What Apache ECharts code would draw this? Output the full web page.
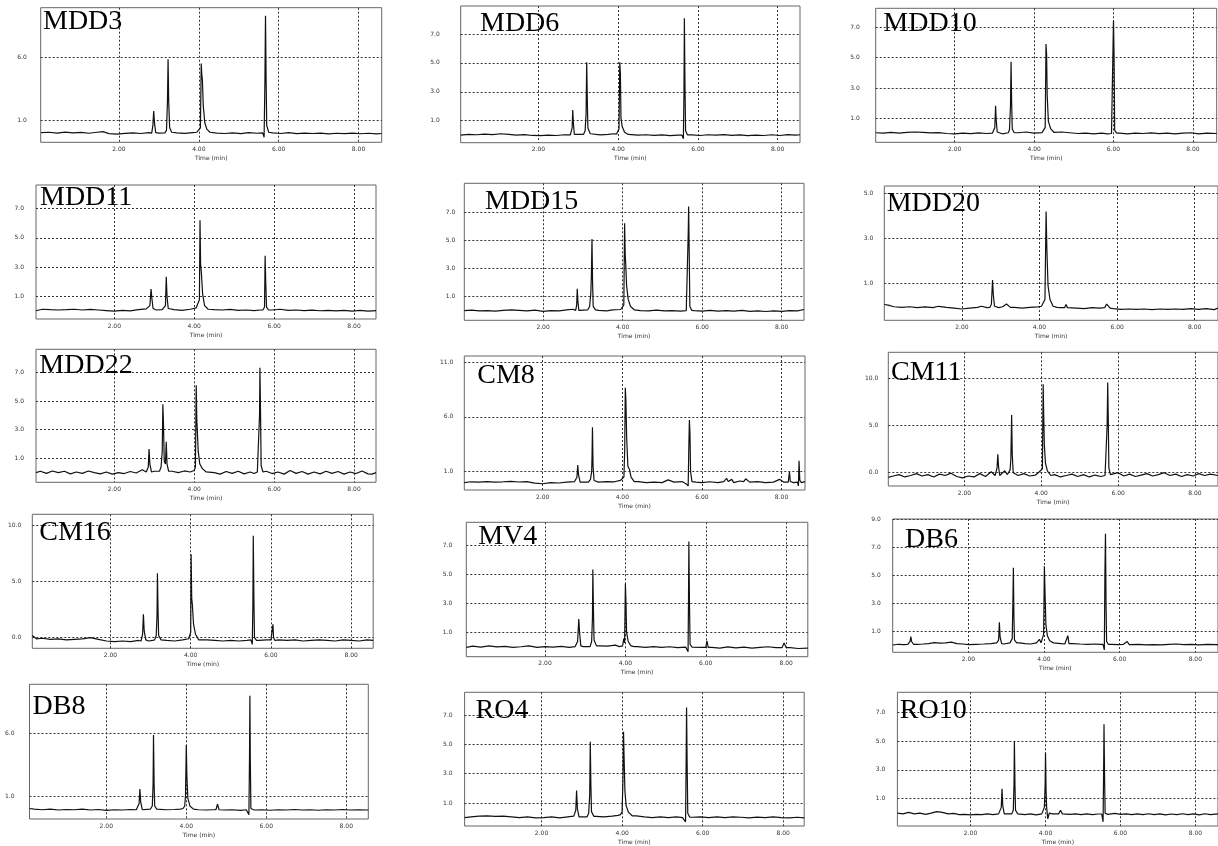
<!DOCTYPE html>
<html>
<head>
<meta charset="utf-8">
<script src="https://cdn.jsdelivr.net/npm/echarts@6/dist/echarts.min.js"></script>
<style>
html,body{margin:0;padding:0;background:#fff;}
#chart{width:1218px;height:846px;}
</style>
</head>
<body>
<div id="chart"></div>
<script>
// ---------- DATA ----------
const panelNames = ['MDD3','MDD6','MDD10','MDD11','MDD15','MDD20','MDD22','CM8','CM11','CM16','MV4','DB6','DB8','RO4','RO10'];
const xTickValues = [2, 4, 6, 8];
const xAxisTitle = 'Time (min)';
const yTickValues = [
  [1, 6], [1, 3, 5, 7], [1, 3, 5, 7],
  [1, 3, 5, 7], [1, 3, 5, 7], [1, 3, 5],
  [1, 3, 5, 7], [1, 6, 11], [0, 5, 10],
  [0, 5, 10], [1, 3, 5, 7], [1, 3, 5, 7, 9],
  [1, 6], [1, 3, 5, 7], [1, 3, 5, 7]
];

const mdd3Base = [[0.05,0.02],[0.25,0.05],[0.45,-0.02],[0.65,0.06],[0.85,0.0],[1.05,0.04],[1.25,-0.03],[1.45,0.05],[1.6,0.1],[1.75,-0.06],[1.95,-0.1],[2.15,-0.04],[2.35,0.0],[2.55,-0.05],[2.75,0.02],[3.0,-0.02],[3.45,0.0],[3.65,-0.04],[3.85,0.02],[3.95,0.05],[4.45,-0.02],[4.65,-0.05],[4.85,0.0],[5.05,-0.06],[5.25,0.02],[5.45,-0.03],[5.85,0.0],[6.05,-0.05],[6.25,0.02],[6.45,-0.06],[6.65,-0.02],[6.85,-0.05],[7.05,-0.02],[7.25,-0.08],[7.45,-0.03],[7.65,-0.06],[7.85,-0.02],[8.05,-0.07],[8.25,-0.03],[8.45,-0.08],[8.58,-0.05]];
const mdd3Peaks = [
  [[2.82,-0.02],[2.85,0.6],[2.87,1.74],[2.89,0.8],[2.92,0.02]],
  [[3.15,0.0],[3.19,0.2],[3.215,2.5],[3.23,5.84],[3.245,2.5],[3.27,0.4],[3.32,0.05]],
  [[4.0,0.05],[4.04,0.4],[4.06,5.5],[4.075,4.6],[4.09,4.2],[4.11,2.2],[4.15,0.8],[4.2,0.3],[4.28,0.05]],
  [[5.6,0.0],[5.635,-0.35],[5.655,4.0],[5.67,9.3],[5.685,4.3],[5.7,0.6],[5.75,0.05]]
];

const mdd6Base = [[0.05,0.0],[0.25,0.06],[0.45,0.03],[0.65,0.08],[0.85,0.04],[1.05,0.1],[1.25,0.05],[1.45,0.0],[1.65,0.04],[1.85,-0.02],[2.05,-0.03],[2.25,0.0],[2.45,-0.02],[2.65,0.03],[2.8,0.02],[3.35,0.05],[3.55,0.02],[3.75,0.06],[3.9,0.1],[4.3,0.05],[4.5,0.0],[4.7,0.03],[4.9,-0.01],[5.1,0.02],[5.3,-0.03],[5.5,0.0],[5.85,0.02],[6.05,-0.02],[6.25,0.03],[6.45,0.0],[6.65,0.04],[6.85,-0.01],[7.05,0.02],[7.25,-0.03],[7.45,0.01],[7.65,-0.02],[7.85,0.03],[8.05,-0.02],[8.25,0.04],[8.45,0.0],[8.56,0.03]];
const mdd6Peaks = [
  [[2.82,0.02],[2.845,0.5],[2.86,1.74],[2.875,0.9],[2.9,0.05]],
  [[3.13,0.05],[3.17,0.3],[3.195,1.5],[3.21,5.04],[3.225,2.5],[3.24,0.5],[3.3,0.1]],
  [[3.96,0.08],[4.0,0.2],[4.02,0.45],[4.04,5.04],[4.055,4.3],[4.07,1.2],[4.1,0.6],[4.16,0.2],[4.25,0.05]],
  [[5.6,0.0],[5.635,-0.25],[5.65,3.0],[5.66,8.09],[5.675,3.5],[5.69,0.3],[5.74,0.02]]
];

const mdd10Base = [[0.01,0.05],[0.2,0.02],[0.4,0.08],[0.6,0.03],[0.8,0.07],[1.0,0.1],[1.2,0.08],[1.4,0.04],[1.6,0.06],[1.8,0.0],[2.0,-0.02],[2.2,0.03],[2.4,-0.01],[2.6,0.04],[2.8,0.0],[2.95,0.02],[3.2,-0.02],[3.6,0.05],[3.8,0.1],[4.0,0.03],[4.2,0.06],[4.7,0.1],[4.9,0.05],[5.1,0.0],[5.3,0.03],[5.5,-0.02],[5.7,0.02],[5.85,-0.03],[6.15,0.02],[6.35,-0.02],[6.55,0.03],[6.75,0.0],[6.95,0.04],[7.15,-0.01],[7.35,0.02],[7.55,-0.03],[7.75,0.02],[7.95,0.05],[8.15,-0.02],[8.35,0.02],[8.6,0.0]];
const mdd10Peaks = [
  [[2.98,0.02],[3.01,0.4],[3.03,1.83],[3.045,0.9],[3.07,0.1],[3.1,0.02]],
  [[3.35,0.05],[3.38,0.25],[3.405,1.8],[3.42,4.73],[3.435,2.0],[3.45,0.3],[3.5,0.05]],
  [[4.25,0.06],[4.28,0.4],[4.3,5.9],[4.315,5.2],[4.33,2.5],[4.36,0.8],[4.42,0.3],[4.5,0.08]],
  [[5.95,0.0],[5.985,0.1],[6.0,7.44],[6.015,5.0],[6.03,0.2],[6.08,0.02]]
];

const mdd11Base = [[0.04,0.05],[0.2,0.15],[0.4,0.12],[0.6,0.1],[0.8,0.12],[1.0,0.15],[1.2,0.1],[1.4,0.14],[1.6,0.1],[1.8,0.06],[2.0,0.02],[2.2,0.08],[2.4,0.04],[2.6,0.12],[2.8,0.18],[3.05,0.1],[3.2,0.12],[3.5,0.12],[3.7,0.08],[3.9,0.15],[4.05,0.25],[4.5,0.12],[4.7,0.1],[4.9,0.14],[5.1,0.08],[5.3,0.1],[5.5,0.06],[5.65,0.1],[5.95,0.1],[6.15,0.15],[6.35,0.08],[6.55,0.1],[6.75,0.06],[6.95,0.09],[7.15,0.05],[7.35,0.08],[7.55,0.04],[7.75,0.07],[7.95,0.03],[8.15,0.08],[8.35,0.03],[8.55,0.06]];
const mdd11Peaks = [
  [[2.85,0.15],[2.89,0.4],[2.92,1.52],[2.94,0.9],[2.97,0.2],[3.0,0.1]],
  [[3.25,0.12],[3.28,0.4],[3.3,2.36],[3.32,1.0],[3.35,0.2],[3.4,0.12]],
  [[4.1,0.3],[4.13,0.8],[4.145,6.19],[4.16,3.2],[4.18,2.6],[4.21,1.2],[4.26,0.4],[4.35,0.15]],
  [[5.72,0.1],[5.76,0.3],[5.775,3.78],[5.79,2.0],[5.81,0.3],[5.86,0.1]]
];

const mdd15Base = [[0.02,0.0],[0.2,0.03],[0.4,-0.02],[0.6,0.0],[0.8,-0.03],[1.0,0.02],[1.2,0.05],[1.4,0.02],[1.6,-0.02],[1.8,0.04],[2.0,-0.05],[2.2,0.0],[2.4,-0.02],[2.6,0.05],[2.75,0.1],[2.95,0.0],[3.4,0.02],[3.6,-0.02],[3.75,0.05],[3.95,0.08],[4.45,0.0],[4.65,-0.02],[4.85,0.03],[5.05,-0.02],[5.25,0.0],[5.45,-0.03],[5.8,0.0],[6.0,-0.03],[6.2,0.02],[6.4,-0.04],[6.6,0.0],[6.8,-0.03],[7.0,0.02],[7.2,-0.05],[7.4,-0.02],[7.6,-0.06],[7.8,-0.02],[8.0,-0.05],[8.2,0.0],[8.4,-0.02],[8.56,0.08]];
const mdd15Peaks = [
  [[2.82,0.02],[2.845,0.4],[2.86,1.56],[2.875,0.7],[2.9,0.02]],
  [[3.12,0.05],[3.17,0.3],[3.2,1.2],[3.215,2.5],[3.23,5.12],[3.245,2.0],[3.26,0.3],[3.32,0.05]],
  [[4.0,0.05],[4.03,0.4],[4.05,6.23],[4.065,4.0],[4.08,3.2],[4.1,1.8],[4.14,0.8],[4.2,0.3],[4.3,0.05]],
  [[5.6,0.0],[5.635,0.1],[5.65,5.6],[5.66,7.44],[5.675,4.0],[5.69,0.3],[5.74,0.02]]
];

const mdd20Base = [[0.0,0.08],[0.1,0.05],[0.25,-0.02],[0.45,-0.05],[0.65,-0.02],[0.85,-0.06],[1.05,-0.03],[1.25,-0.06],[1.4,0.0],[1.6,-0.05],[1.8,-0.08],[2.0,-0.12],[2.2,-0.08],[2.4,-0.05],[2.5,0.0],[2.65,-0.06],[2.95,-0.06],[3.05,-0.02],[3.35,-0.05],[3.55,-0.08],[3.75,-0.05],[3.95,-0.03],[4.05,0.0],[4.55,-0.06],[4.75,-0.1],[4.95,-0.08],[5.15,-0.1],[5.35,-0.06],[5.55,-0.08],[5.9,-0.1],[6.1,-0.14],[6.3,-0.12],[6.5,-0.14],[6.7,-0.12],[6.9,-0.15],[7.1,-0.12],[7.3,-0.14],[7.5,-0.12],[7.7,-0.14],[7.9,-0.1],[8.1,-0.14],[8.3,-0.1],[8.5,-0.15],[8.6,-0.08]];
const mdd20Peaks = [
  [[2.72,-0.05],[2.76,0.1],[2.79,1.16],[2.81,0.5],[2.84,0.0],[2.88,-0.05]],
  [[3.1,-0.05],[3.15,0.1],[3.17,0.18],[3.2,0.05],[3.25,-0.05]],
  [[4.1,0.0],[4.14,0.3],[4.17,4.19],[4.19,2.5],[4.22,0.9],[4.27,0.3],[4.35,0.0],[4.45,-0.05]],
  [[4.65,-0.06],[4.68,0.08],[4.72,-0.06]],
  [[5.68,-0.06],[5.73,0.1],[5.77,0.05],[5.82,-0.08]]
];

const mdd22Base = [[0.04,0.0],[0.15,0.1],[0.3,-0.05],[0.45,0.12],[0.6,0.0],[0.75,0.1],[0.9,-0.08],[1.05,0.05],[1.2,-0.05],[1.35,0.12],[1.5,0.0],[1.65,-0.08],[1.8,0.05],[1.95,-0.1],[2.1,0.0],[2.25,-0.06],[2.4,0.08],[2.55,-0.02],[2.7,0.2],[2.8,0.05],[3.0,0.1],[3.45,0.1],[3.6,0.0],[3.75,0.12],[3.9,0.05],[4.5,0.0],[4.65,-0.1],[4.8,0.08],[4.95,-0.05],[5.1,0.1],[5.25,-0.08],[5.4,0.05],[5.5,-0.06],[5.8,0.1],[5.95,-0.06],[6.1,0.05],[6.25,-0.1],[6.4,0.15],[6.55,-0.05],[6.7,0.08],[6.85,-0.1],[7.0,0.05],[7.15,-0.08],[7.3,0.1],[7.45,-0.05],[7.6,0.08],[7.75,-0.1],[7.9,0.05],[8.05,-0.06],[8.2,0.12],[8.35,-0.08],[8.45,-0.1],[8.55,0.0]];
const mdd22Peaks = [
  [[2.82,0.05],[2.85,0.4],[2.87,1.65],[2.89,0.6],[2.93,0.05]],
  [[3.13,0.1],[3.17,0.4],[3.2,1.5],[3.215,4.77],[3.23,3.5],[3.25,0.8],[3.28,0.6],[3.3,2.16],[3.32,0.6],[3.36,0.1]],
  [[4.0,0.15],[4.03,0.4],[4.05,6.1],[4.065,3.7],[4.08,3.6],[4.1,1.5],[4.14,0.6],[4.2,0.3],[4.3,0.05]],
  [[5.58,0.05],[5.62,0.0],[5.635,4.0],[5.645,7.32],[5.66,4.2],[5.675,0.5],[5.72,0.05]]
];

const cm8Base = [[0.03,0.0],[0.2,0.08],[0.4,0.05],[0.6,0.1],[0.8,0.05],[1.0,0.08],[1.2,0.12],[1.4,0.06],[1.6,0.1],[1.8,-0.05],[2.0,-0.1],[2.2,0.0],[2.4,-0.03],[2.6,0.05],[2.8,0.1],[3.0,0.05],[3.4,0.05],[3.6,0.1],[3.8,0.08],[3.95,0.2],[4.4,0.1],[4.6,0.0],[4.8,0.05],[5.0,0.0],[5.15,0.25],[5.3,0.05],[5.5,0.1],[5.6,-0.1],[5.85,0.05],[6.0,0.0],[6.2,0.08],[6.4,0.0],[6.55,0.1],[6.62,0.4],[6.66,0.1],[6.75,0.3],[6.8,0.0],[6.95,0.15],[7.05,0.1],[7.1,0.35],[7.2,0.05],[7.4,0.1],[7.6,0.0],[7.8,0.05],[7.95,0.3],[8.05,0.05],[8.3,0.0],[8.59,0.1]];
const cm8Peaks = [
  [[2.82,0.05],[2.86,0.5],[2.88,1.61],[2.9,0.7],[2.94,0.05]],
  [[3.15,0.05],[3.2,0.3],[3.23,1.0],[3.24,2.5],[3.25,5.05],[3.265,1.5],[3.29,0.2],[3.34,0.05]],
  [[4.0,0.2],[4.04,0.5],[4.06,3.0],[4.075,8.66],[4.09,7.5],[4.11,4.0],[4.14,1.5],[4.18,1.2],[4.22,0.5],[4.3,0.1]],
  [[5.63,0.0],[5.655,-0.3],[5.67,3.0],[5.685,5.72],[5.7,4.5],[5.715,1.0],[5.75,0.1],[5.8,0.0]],
  [[8.17,0.05],[8.2,1.0],[8.22,0.1],[8.26,0.05]],
  [[8.4,0.05],[8.425,-0.3],[8.44,2.0],[8.46,0.2],[8.5,0.0]]
];

const cm11Base = [[0.02,-0.5],[0.15,-0.35],[0.3,-0.2],[0.45,-0.45],[0.6,-0.3],[0.75,-0.1],[0.9,-0.35],[1.05,-0.2],[1.2,-0.45],[1.35,-0.15],[1.5,-0.3],[1.65,-0.05],[1.8,-0.4],[1.95,-0.55],[2.1,-0.35],[2.25,-0.45],[2.4,-0.1],[2.55,-0.4],[2.7,0.1],[2.8,-0.3],[2.95,-0.2],[3.05,0.2],[3.12,-0.2],[3.4,-0.3],[3.55,-0.1],[3.7,-0.35],[3.85,-0.25],[3.95,0.1],[4.35,-0.2],[4.5,-0.45],[4.65,-0.3],[4.8,-0.15],[4.95,-0.4],[5.1,-0.2],[5.25,-0.45],[5.4,-0.25],[5.55,-0.4],[5.85,-0.2],[6.0,0.0],[6.15,-0.35],[6.3,-0.15],[6.45,-0.4],[6.6,-0.25],[6.75,-0.1],[6.9,-0.35],[7.05,-0.2],[7.2,0.0],[7.35,-0.3],[7.5,-0.15],[7.65,-0.4],[7.8,-0.2],[7.95,-0.35],[8.1,-0.1],[8.25,-0.3],[8.4,-0.15],[8.6,-0.3]];
const cm11Peaks = [
  [[2.82,-0.3],[2.85,0.5],[2.87,1.95],[2.89,0.6],[2.92,-0.3]],
  [[3.15,-0.2],[3.19,0.3],[3.21,1.5],[3.23,6.1],[3.245,2.0],[3.27,0.0],[3.32,-0.2]],
  [[3.99,0.0],[4.03,0.4],[4.05,9.37],[4.065,6.0],[4.08,3.0],[4.11,1.0],[4.16,0.2],[4.25,-0.3]],
  [[5.66,-0.3],[5.7,-0.2],[5.715,5.0],[5.73,9.55],[5.745,5.5],[5.76,0.5],[5.8,-0.2]]
];

const cm16Base = [[0.05,0.2],[0.15,-0.1],[0.3,-0.05],[0.5,-0.15],[0.7,-0.1],[0.9,-0.2],[1.1,-0.15],[1.3,-0.1],[1.5,0.0],[1.7,-0.15],[1.9,-0.3],[2.1,-0.35],[2.3,-0.3],[2.5,-0.35],[2.7,-0.25],[2.95,-0.3],[3.05,-0.25],[3.4,-0.25],[3.6,-0.3],[3.8,-0.2],[3.95,-0.1],[4.4,-0.2],[4.6,-0.25],[4.8,-0.3],[5.0,-0.25],[5.2,-0.3],[5.4,-0.25],[5.7,-0.25],[5.9,-0.2],[6.2,-0.2],[6.4,-0.25],[6.6,-0.2],[6.8,-0.3],[7.0,-0.25],[7.2,-0.2],[7.4,-0.25],[7.6,-0.3],[7.8,-0.2],[8.0,-0.25],[8.2,-0.3],[8.4,-0.2],[8.55,-0.25]];
const cm16Peaks = [
  [[2.76,-0.3],[2.8,0.3],[2.82,2.09],[2.84,0.6],[2.88,-0.2]],
  [[3.1,-0.2],[3.14,0.2],[3.16,2.0],[3.17,5.75],[3.185,2.5],[3.2,0.2],[3.26,-0.2]],
  [[3.97,0.0],[4.0,0.5],[4.01,7.45],[4.025,3.5],[4.04,3.0],[4.07,1.2],[4.12,0.3],[4.2,-0.2]],
  [[5.5,-0.2],[5.535,-0.6],[5.55,3.0],[5.56,9.1],[5.575,3.5],[5.59,0.0],[5.64,-0.25]],
  [[6.0,-0.2],[6.035,-0.3],[6.05,1.2],[6.065,0.0],[6.1,-0.25]]
];

const mv4Base = [[0.04,0.0],[0.2,0.08],[0.4,0.02],[0.6,0.1],[0.8,0.03],[1.0,0.06],[1.2,0.0],[1.4,0.04],[1.6,0.1],[1.8,0.0],[2.0,0.05],[2.2,0.02],[2.4,0.06],[2.6,0.0],[2.75,0.05],[2.95,0.05],[3.35,0.1],[3.55,0.08],[3.75,0.15],[3.85,0.05],[4.3,0.05],[4.5,0.0],[4.7,0.05],[4.9,0.0],[5.1,0.04],[5.3,-0.02],[5.5,0.02],[5.7,0.05],[5.9,0.0],[6.15,0.0],[6.35,-0.05],[6.55,0.03],[6.75,-0.04],[6.95,0.02],[7.15,-0.05],[7.35,0.0],[7.55,0.04],[7.75,-0.02],[8.1,-0.02],[8.3,-0.08],[8.54,-0.05]];
const mv4Peaks = [
  [[2.78,0.05],[2.81,0.4],[2.84,1.94],[2.86,1.0],[2.89,0.1],[2.93,0.05]],
  [[3.12,0.05],[3.16,0.4],[3.18,2.0],[3.19,5.32],[3.205,2.5],[3.22,0.5],[3.28,0.1]],
  [[3.93,0.1],[3.96,0.6],[3.98,0.3],[4.0,4.34],[4.015,3.0],[4.03,1.0],[4.07,0.4],[4.14,0.1],[4.22,0.05]],
  [[5.52,0.02],[5.56,-0.3],[5.57,3.0],[5.58,7.23],[5.595,3.0],[5.61,0.2],[5.66,0.02]],
  [[6.0,0.0],[6.03,0.45],[6.06,0.0]],
  [[7.9,-0.02],[7.95,0.3],[8.0,-0.02]]
];

const db6Base = [[0.0,0.05],[0.15,0.1],[0.3,0.08],[0.4,0.1],[0.65,0.1],[0.8,0.12],[0.95,0.15],[1.1,0.22],[1.25,0.18],[1.4,0.2],[1.55,0.25],[1.7,0.15],[1.85,0.12],[2.0,0.08],[2.2,0.1],[2.4,0.12],[2.6,0.15],[2.75,0.2],[2.95,0.12],[3.1,0.2],[3.35,0.2],[3.5,0.15],[3.65,0.12],[3.8,0.2],[4.3,0.2],[4.45,0.15],[4.55,0.12],[4.75,0.15],[4.95,0.12],[5.15,0.1],[5.35,0.12],[5.5,0.1],[5.8,0.1],[5.95,0.08],[6.1,0.1],[6.3,0.08],[6.5,0.1],[6.7,0.06],[6.9,0.08],[7.1,0.06],[7.3,0.1],[7.5,0.12],[7.7,0.08],[7.9,0.1],[8.1,0.06],[8.3,0.1],[8.6,0.08]];
const db6Peaks = [
  [[0.42,0.1],[0.46,0.3],[0.48,0.64],[0.5,0.3],[0.55,0.1]],
  [[2.78,0.15],[2.8,0.4],[2.82,1.67],[2.84,0.6],[2.88,0.15]],
  [[3.13,0.2],[3.16,0.5],[3.18,3.5],[3.19,5.53],[3.205,2.0],[3.22,0.4],[3.28,0.2]],
  [[3.85,0.15],[3.88,0.45],[3.92,0.2]],
  [[3.96,0.3],[3.99,0.8],[4.01,5.64],[4.03,3.5],[4.05,1.5],[4.09,0.7],[4.15,0.35],[4.25,0.2]],
  [[4.6,0.12],[4.63,0.71],[4.66,0.15]],
  [[5.56,0.1],[5.595,-0.3],[5.61,5.0],[5.625,7.95],[5.64,3.0],[5.655,0.3],[5.7,0.1]],
  [[6.15,0.08],[6.2,0.3],[6.25,0.08]]
];

const db8Base = [[0.08,0.0],[0.2,-0.05],[0.4,-0.1],[0.6,-0.05],[0.8,-0.12],[1.0,-0.08],[1.2,-0.1],[1.4,-0.05],[1.6,-0.12],[1.8,-0.08],[2.0,-0.15],[2.2,-0.1],[2.4,-0.12],[2.6,-0.08],[2.75,-0.1],[2.95,-0.1],[3.3,-0.05],[3.5,-0.1],[3.7,-0.08],[3.85,-0.05],[4.3,-0.1],[4.5,-0.12],[4.65,-0.1],[4.95,-0.12],[5.15,-0.1],[5.35,-0.15],[5.5,-0.1],[5.7,-0.12],[5.9,-0.1],[6.1,-0.14],[6.3,-0.1],[6.5,-0.12],[6.7,-0.08],[6.9,-0.12],[7.1,-0.1],[7.3,-0.14],[7.5,-0.1],[7.7,-0.12],[7.9,-0.08],[8.1,-0.12],[8.3,-0.1],[8.55,-0.12]];
const db8Peaks = [
  [[2.8,-0.1],[2.82,0.4],[2.84,1.56],[2.86,0.5],[2.9,-0.1]],
  [[3.1,-0.05],[3.15,0.2],[3.17,2.0],[3.18,5.87],[3.195,2.0],[3.21,0.2],[3.26,-0.05]],
  [[3.92,0.0],[3.96,0.2],[3.98,1.0],[4.0,5.07],[4.015,2.5],[4.04,0.8],[4.09,0.2],[4.18,-0.05]],
  [[4.74,-0.1],[4.78,0.34],[4.82,-0.1]],
  [[5.53,-0.1],[5.565,-0.5],[5.58,4.0],[5.59,9.0],[5.6,4.0],[5.615,0.0],[5.66,-0.1]]
];

const ro4Base = [[0.09,0.0],[0.25,0.05],[0.45,0.1],[0.65,0.12],[0.85,0.08],[1.05,0.1],[1.25,0.05],[1.45,0.0],[1.65,0.05],[1.85,-0.02],[2.05,0.0],[2.25,0.04],[2.45,-0.02],[2.65,0.05],[2.8,0.1],[3.0,0.05],[3.35,0.08],[3.55,0.05],[3.75,0.1],[3.9,0.15],[4.35,0.12],[4.55,0.05],[4.75,0.0],[4.95,0.05],[5.15,0.0],[5.35,0.04],[5.5,0.0],[5.75,0.02],[5.95,0.05],[6.15,0.0],[6.35,0.04],[6.55,0.0],[6.75,0.05],[6.95,0.02],[7.15,-0.02],[7.35,0.03],[7.55,0.0],[7.75,0.05],[7.95,0.0],[8.15,-0.03],[8.35,0.02],[8.52,-0.02]];
const ro4Peaks = [
  [[2.83,0.08],[2.85,0.5],[2.87,1.85],[2.89,0.6],[2.93,0.05]],
  [[3.13,0.05],[3.17,0.3],[3.195,1.5],[3.21,5.2],[3.225,2.2],[3.24,0.4],[3.3,0.08]],
  [[3.96,0.2],[4.0,0.4],[4.02,2.5],[4.035,5.88],[4.05,4.0],[4.07,1.8],[4.1,0.8],[4.16,0.35],[4.25,0.12]],
  [[5.54,0.0],[5.575,-0.3],[5.59,4.0],[5.6,7.54],[5.615,3.5],[5.63,0.3],[5.68,0.02]]
];

const ro10Base = [[0.05,0.0],[0.2,-0.05],[0.35,0.05],[0.5,-0.05],[0.65,0.0],[0.8,-0.08],[0.95,0.0],[1.1,0.1],[1.25,0.05],[1.4,-0.05],[1.55,-0.02],[1.7,-0.1],[1.85,-0.08],[2.0,-0.12],[2.15,-0.08],[2.3,-0.1],[2.45,-0.05],[2.6,-0.1],[2.75,-0.05],[2.95,-0.08],[3.3,-0.05],[3.45,-0.1],[3.6,-0.05],[3.75,-0.12],[3.9,-0.05],[4.25,-0.05],[4.5,-0.1],[4.65,-0.08],[4.8,-0.05],[4.95,-0.1],[5.1,-0.05],[5.25,-0.1],[5.4,-0.06],[5.7,-0.08],[5.85,-0.02],[6.0,-0.08],[6.15,-0.05],[6.3,-0.1],[6.45,-0.05],[6.6,-0.1],[6.75,-0.04],[6.9,-0.1],[7.05,-0.05],[7.2,-0.12],[7.35,-0.06],[7.5,-0.1],[7.65,-0.04],[7.8,-0.1],[7.95,-0.05],[8.1,-0.12],[8.25,-0.04],[8.4,-0.1],[8.6,-0.05]];
const ro10Peaks = [
  [[2.79,-0.05],[2.82,0.4],[2.84,1.68],[2.86,0.5],[2.9,-0.05]],
  [[3.1,-0.05],[3.14,0.2],[3.16,2.0],[3.17,5.0],[3.185,2.0],[3.2,0.2],[3.26,-0.05]],
  [[3.93,-0.02],[3.97,0.4],[3.99,2.0],[4.0,4.2],[4.015,1.5],[4.03,0.4],[4.06,-0.4],[4.1,0.0],[4.18,-0.05]],
  [[4.35,-0.05],[4.4,0.2],[4.45,-0.05]],
  [[5.5,-0.06],[5.535,-0.6],[5.55,3.0],[5.56,6.15],[5.575,2.5],[5.59,0.0],[5.65,-0.08]]
];

const baselines = [mdd3Base, mdd6Base, mdd10Base, mdd11Base, mdd15Base, mdd20Base, mdd22Base, cm8Base, cm11Base, cm16Base, mv4Base, db6Base, db8Base, ro4Base, ro10Base];
const peakSets = [mdd3Peaks, mdd6Peaks, mdd10Peaks, mdd11Peaks, mdd15Peaks, mdd20Peaks, mdd22Peaks, cm8Peaks, cm11Peaks, cm16Peaks, mv4Peaks, db6Peaks, db8Peaks, ro4Peaks, ro10Peaks];

// ---------- LAYOUT (positions / ranges, not data) ----------
const layout = [
  {g:[40.7,7.7,341,134.6],   x:[0.04,8.58], y:[-0.75,9.94],  m:14, t:[43,21.7]},
  {g:[460.7,6,339.3,136.7],  x:[0.05,8.56], y:[-0.52,8.94],  m:21, t:[480,23.7]},
  {g:[875.7,8.3,341,134],    x:[0.01,8.6],  y:[-0.58,8.25],  m:16, t:[883.3,23.8]},
  {g:[36,185,340,134],       x:[0.04,8.55], y:[-0.51,8.58],  m:12, t:[40,197.2]},
  {g:[464.3,183.3,339.7,137],x:[0.02,8.56], y:[-0.69,9.09],  m:9,  t:[485,201.2]},
  {g:[884.3,186,340.6,134.3],x:[0,8.6],     y:[-0.62,5.32],  m:11, t:[886.7,204]},
  {g:[36,349.3,340,133],     x:[0.04,8.55], y:[-0.67,8.6],   m:12, t:[39.3,365.5]},
  {g:[464.3,356,340.7,134],  x:[0.03,8.59], y:[-0.67,11.55], m:11, t:[477.3,375.2]},
  {g:[888.3,352.3,340.6,133.7],x:[0.02,8.6],y:[-1.41,12.75], m:10, t:[891,373]},
  {g:[32.3,514.3,340.9,134], x:[0.05,8.55], y:[-0.95,11.02], m:11, t:[39.3,533]},
  {g:[466.3,522.3,341.5,134.4],x:[0.04,8.54],y:[-0.64,8.55], m:14, t:[478.2,536.3]},
  {g:[892.7,519,340.6,133.3],x:[0,8.6],     y:[-0.47,9.0],   m:12, t:[905,539.2]},
  {g:[29.5,684.3,338.8,134.7],x:[0.08,8.55],y:[-0.84,9.91],  m:15, t:[32.6,706.3]},
  {g:[464.6,692.3,339.6,135.4],x:[0.09,8.52],y:[-0.58,8.58], m:12, t:[475.5,710.8]},
  {g:[897.4,692.3,341.1,135.4],x:[0.05,8.6],y:[-0.89,8.37],  m:12, t:[899.8,710.8]}
];

function buildTrace(base, peaks) {
  const pts = base.filter(p => !peaks.some(pk => p[0] >= pk[0][0] && p[0] <= pk[pk.length - 1][0]));
  peaks.forEach(pk => pk.forEach(p => pts.push(p)));
  return pts.sort((a, b) => a[0] - b[0]);
}

const grids = [], xAxes = [], yAxes = [], series = [], graphics = [];
const gridLine = {type: [2, 2], color: '#333', width: 1};
panelNames.forEach((name, i) => {
  const L = layout[i];
  grids.push({left: L.g[0], top: L.g[1], width: L.g[2], height: L.g[3], show: true,
    borderColor: '#666', borderWidth: 1, backgroundColor: '#fff', containLabel: false});
  xAxes.push({type: 'value', gridIndex: i, min: L.x[0], max: L.x[1],
    name: xAxisTitle, nameLocation: 'middle', nameGap: 13,
    nameTextStyle: {fontSize: 6, color: '#333', fontFamily: 'DejaVu Sans'},
    axisLine: {show: false}, axisTick: {show: false, customValues: xTickValues},
    axisLabel: {customValues: xTickValues, fontSize: 6, color: '#333', margin: 4,
      fontFamily: 'DejaVu Sans', formatter: v => v.toFixed(2)},
    splitLine: {show: true, lineStyle: gridLine}});
  yAxes.push({type: 'value', gridIndex: i, min: L.y[0], max: L.y[1],
    axisLine: {show: false}, axisTick: {show: false, customValues: yTickValues[i]},
    axisLabel: {customValues: yTickValues[i], fontSize: 6, color: '#333', margin: L.m,
      fontFamily: 'DejaVu Sans', formatter: v => v.toFixed(1)},
    splitLine: {show: true, lineStyle: gridLine}});
  series.push({type: 'line', xAxisIndex: i, yAxisIndex: i, showSymbol: false, symbol: 'none',
    data: buildTrace(baselines[i], peakSets[i]), clip: true,
    lineStyle: {color: '#111', width: 1.2}, silent: true, z: 3});
  graphics.push({type: 'text', x: L.t[0], y: L.t[1], z: 100,
    style: {text: name, fill: '#000', font: '28px "Liberation Serif"',
      textAlign: 'left', textVerticalAlign: 'middle', align: 'left', verticalAlign: 'middle'}});
});

const chart = echarts.init(document.getElementById('chart'), null, {renderer: 'canvas'});
chart.setOption({
  backgroundColor: '#fff',
  animation: false,
  grid: grids,
  xAxis: xAxes,
  yAxis: yAxes,
  series: series,
  graphic: graphics
});
</script>
</body>
</html>
